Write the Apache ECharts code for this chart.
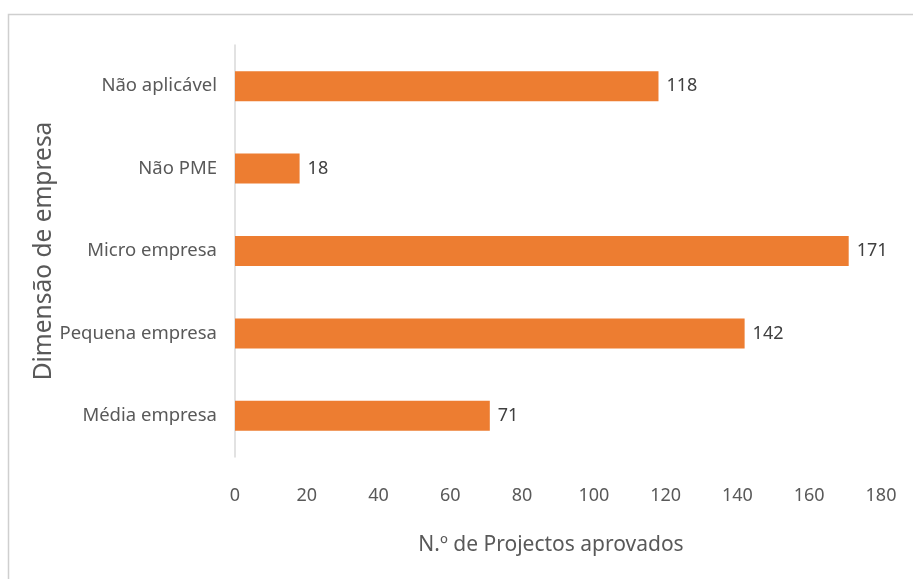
<!DOCTYPE html>
<html>
<head>
<meta charset="utf-8">
<script src="https://cdn.jsdelivr.net/npm/echarts@6/dist/echarts.min.js"></script>
<style>
  html, body { margin: 0; padding: 0; background: #ffffff; }
  #chart { width: 913px; height: 579px; }
</style>
</head>
<body>
<div id="chart"></div>
<script>
// Company-size categories, listed bottom to top
const categories = ['Média empresa', 'Pequena empresa', 'Micro empresa', 'Não PME', 'Não aplicável'];
// Approved projects per category
const projects = [71, 142, 171, 18, 118];
// Horizontal axis ticks
const xTicks = { min: 0, max: 180, interval: 20 };

const FONT = '"Noto Sans", "Open Sans", sans-serif';
const chart = echarts.init(document.getElementById('chart'), null, { renderer: 'canvas' });

chart.setOption({
  animation: false,
  backgroundColor: '#ffffff',
  graphic: [{
    type: 'rect',
    shape: { x: 8.5, y: 14.5, width: 1200, height: 1200 },
    style: { fill: null, stroke: '#cfcfcf', lineWidth: 1.5 },
    silent: true,
    z: -1
  }],
  grid: { left: 235, right: 32, top: 45, height: 412, containLabel: false },
  xAxis: {
    type: 'value',
    min: xTicks.min,
    max: xTicks.max,
    interval: xTicks.interval,
    name: 'N.º de Projectos aprovados',
    nameLocation: 'middle',
    nameGap: 78,
    nameMoveOverlap: false,
    nameTextStyle: { fontFamily: FONT, fontSize: 21, color: '#595959', padding: [0, 14, 0, 0] },
    axisLine: { show: false },
    axisTick: { show: false },
    splitLine: { show: false },
    axisLabel: { fontFamily: FONT, fontSize: 18, color: '#595959', margin: 30 }
  },
  yAxis: {
    type: 'category',
    data: categories,
    name: 'Dimensão de empresa',
    nameLocation: 'middle',
    nameGap: 178,
    nameRotate: 90,
    nameMoveOverlap: false,
    nameTextStyle: { fontFamily: FONT, fontSize: 24.5, color: '#595959' },
    axisLine: { show: true, lineStyle: { color: '#d9d9d9', width: 1.5 } },
    axisTick: { show: false },
    axisLabel: { fontFamily: FONT, fontSize: 18.5, color: '#595959', margin: 18 }
  },
  series: [{
    type: 'bar',
    data: projects,
    barWidth: 30,
    itemStyle: { color: '#ed7d31' },
    label: {
      show: true,
      position: 'right',
      distance: 8,
      fontFamily: FONT,
      fontSize: 18,
      color: '#404040'
    }
  }]
});
</script>
</body>
</html>
